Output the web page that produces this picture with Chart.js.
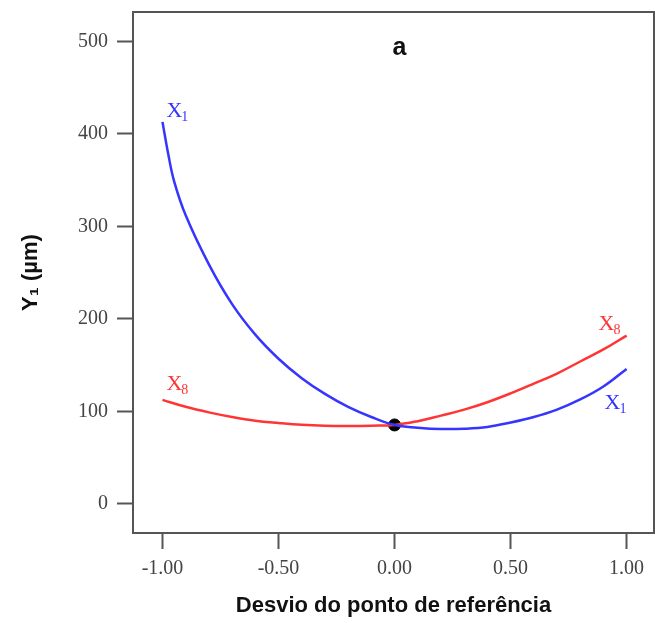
<!DOCTYPE html>
<html>
<head>
<meta charset="utf-8">
<script src="https://cdn.jsdelivr.net/npm/chart.js@4.4.1/dist/chart.umd.min.js"></script>
<style>
  html, body { margin: 0; padding: 0; background: #ffffff; overflow: hidden; }
  #wrap { width: 661px; height: 623px; }
</style>
</head>
<body>
<div id="wrap"><canvas id="desvio_chart"></canvas></div>
<script>

// values
let x1_x = [-1.00, -0.975, -0.95, -0.90, -0.80, -0.70, -0.60, -0.50, -0.40, -0.30, -0.20, -0.10, 0.00, 0.10, 0.20, 0.30, 0.40, 0.50, 0.60, 0.70, 0.80, 0.90, 1.00];
let x1_y = [413, 378, 349, 312, 259, 216, 183, 157, 136, 119, 105, 94, 85.4, 82.5, 81, 81.3, 83.2, 88, 94, 102, 113, 127, 146];

let x8_x = [-1.00, -0.90, -0.80, -0.70, -0.60, -0.50, -0.40, -0.30, -0.20, -0.10, 0.00, 0.10, 0.20, 0.30, 0.40, 0.50, 0.60, 0.70, 0.80, 0.90, 1.00];
let x8_y = [112.5, 105, 99, 94, 90, 87.5, 85.5, 84.5, 84.3, 84.6, 85.4, 89.5, 95.5, 102, 110, 119.5, 130, 141, 154, 167, 182];

let ref_point = { x: 0, y: 85.4 };

let x_ticks = [-1.00, -0.50, 0.00, 0.50, 1.00];
let y_ticks = [0, 100, 200, 300, 400, 500];

function pairs(xs, ys) {
    return xs.map(function(v, i) { return { x: v, y: ys[i] }; });
}

// curve end labels: [dataset, point, main, sub, colour, dx, dy]
let end_labels = [
    [0, 0, 'X', '1', '#3333ff', 4, -5],
    [0, x1_x.length - 1, 'X', '1', '#3333ff', -22, 40],
    [1, 0, 'X', '8', '#ff3333', 4, -10],
    [1, x8_x.length - 1, 'X', '8', '#ff3333', -28, -6]
];

const framePlugin = {
    id: 'frame',
    afterDraw(chart) {
        const ctx = chart.ctx;
        const a = chart.chartArea;
        ctx.save();
        ctx.strokeStyle = '#555555';
        ctx.lineWidth = 2;
        ctx.strokeRect(a.left, a.top, a.right - a.left, a.bottom - a.top);

        // panel letter
        ctx.fillStyle = '#111111';
        ctx.font = 'bold 25px "Liberation Sans", Arial, sans-serif';
        ctx.textAlign = 'center';
        ctx.textBaseline = 'alphabetic';
        ctx.fillText('a', (a.left + a.right) / 2 + 6, a.top + 43);

        // curve labels
        ctx.textAlign = 'left';
        end_labels.forEach(function(l) {
            const pt = chart.getDatasetMeta(l[0]).data[l[1]];
            const px = pt.x + l[5];
            const py = pt.y + l[6];
            ctx.fillStyle = l[4];
            ctx.font = '22px "Liberation Serif", "Times New Roman", serif';
            ctx.fillText(l[2], px, py);
            const w = ctx.measureText(l[2]).width;
            ctx.font = '14px "Liberation Serif", "Times New Roman", serif';
            ctx.fillText(l[3], px + w - 1, py + 4);
        });
        ctx.restore();
    }
};

let desvio_chart = new Chart(document.getElementById('desvio_chart'), {

    type: 'line',

    data: {
        datasets: [
            // X1
            {
                label: 'X1',
                data: pairs(x1_x, x1_y),
                borderColor: '#3535ff',
                borderWidth: 2.5,
                pointRadius: 0,
                fill: false,
                tension: 0.4
            },
            // X8
            {
                label: 'X8',
                data: pairs(x8_x, x8_y),
                borderColor: '#ff3535',
                borderWidth: 2.5,
                pointRadius: 0,
                fill: false,
                tension: 0.4
            },
            // reference point
            {
                label: 'ref',
                data: [ref_point],
                showLine: false,
                pointRadius: 6,
                pointBackgroundColor: '#000000',
                pointBorderColor: '#000000'
            }
        ]
    },

    options: {
        responsive: true,
        maintainAspectRatio: false,
        animation: false,
        layout: {
            padding: { top: 12, right: 1, left: 0, bottom: 0 }
        },
        plugins: {
            legend: { display: false },
            tooltip: { enabled: false }
        },
        scales: {
            x: {
                type: 'linear',
                min: -1.127,
                max: 1.118,
                afterBuildTicks: function(scale) {
                    scale.ticks = x_ticks.map(function(v) { return { value: v }; });
                },
                afterFit: function(scale) {
                    scale.height = 90;
                    scale.paddingLeft = 0;
                    scale.paddingRight = 0;
                },
                grid: {
                    drawOnChartArea: false,
                    drawTicks: true,
                    tickLength: 16,
                    tickColor: '#555555',
                    tickWidth: 2
                },
                border: { display: true, color: '#555555', width: 2 },
                ticks: {
                    color: '#444444',
                    padding: 8,
                    maxRotation: 0,
                    font: { family: '"Liberation Serif", "Times New Roman", serif', size: 20 },
                    callback: function(v) { return v.toFixed(2); }
                },
                title: {
                    display: true,
                    text: 'Desvio do ponto de referência',
                    color: '#111111',
                    font: { family: '"Liberation Sans", Arial, sans-serif', size: 22, weight: 'bold' },
                    padding: { top: 0, bottom: 4 }
                }
            },
            y: {
                type: 'linear',
                min: -31.4,
                max: 531.8,
                afterBuildTicks: function(scale) {
                    scale.ticks = y_ticks.map(function(v) { return { value: v }; });
                },
                afterFit: function(scale) {
                    scale.width = 133;
                    scale.paddingTop = 0;
                    scale.paddingBottom = 0;
                },
                grid: {
                    drawOnChartArea: false,
                    drawTicks: true,
                    tickLength: 16,
                    tickColor: '#555555',
                    tickWidth: 2
                },
                border: { display: true, color: '#555555', width: 2 },
                ticks: {
                    color: '#444444',
                    padding: 9,
                    font: { family: '"Liberation Serif", "Times New Roman", serif', size: 20 }
                },
                title: {
                    display: true,
                    text: 'Y\u2081 (µm)',
                    color: '#111111',
                    font: { family: '"Liberation Sans", Arial, sans-serif', size: 22, weight: 'bold' },
                    padding: { top: 18, bottom: 0 }
                }
            }
        }
    },

    plugins: [framePlugin]
});

</script>
</body>
</html>
